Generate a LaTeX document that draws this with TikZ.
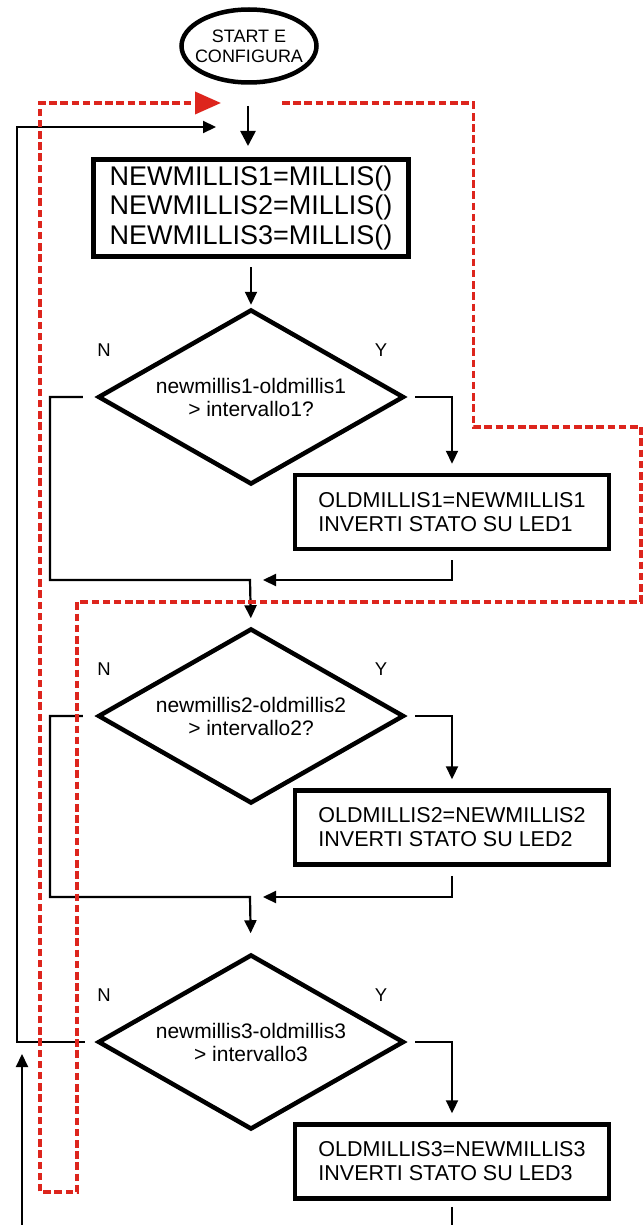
\documentclass[tikz,border=0pt]{standalone}
\usepackage{fontspec}
\setmainfont{Liberation Sans}
\usetikzlibrary{arrows.meta,positioning,calc,shapes.geometric}
\definecolor{looptrace}{RGB}{221,37,29}
\tikzset{
 startnode/.style={ellipse,draw,line width=4.5pt,minimum width=135pt,minimum height=73pt,inner xsep=-14pt,inner ysep=0pt,align=center,font=\fontsize{18}{20}\selectfont},
 initbox/.style={draw,line width=5pt,minimum width=315pt,minimum height=97pt,inner sep=0pt,align=center,font=\fontsize{27}{29.5}\selectfont},
 cond/.style={diamond,aspect=1.75,draw,line width=4.5pt,minimum width=306pt,minimum height=175pt,inner sep=0pt,align=center,font=\fontsize{21}{23}\selectfont},
 act/.style={draw,line width=4.5pt,minimum width=314pt,minimum height=74pt,inner sep=0pt,align=left,font=\fontsize{21.5}{24}\selectfont},
 yn/.style={font=\fontsize{18.5}{20}\selectfont},
 wire/.style={line width=2.2pt},
 flow/.style={wire,-{Triangle[length=13pt,width=12pt]}},
 redloop/.style={looptrace,line width=3.6pt,dash pattern=on 7.5pt off 3.7pt,-{Triangle[length=26pt,width=22pt]}}
}
\begin{document}
\begin{tikzpicture}[x=1pt,y=-1pt]
\path[use as bounding box,fill=white](0,0)rectangle(643,1225);
\node[startnode](start)at(249,46){START E\\CONFIGURA};
\node[initbox](init)at(251,208){NEWMILLIS1=MILLIS()\\NEWMILLIS2=MILLIS()\\NEWMILLIS3=MILLIS()};
\coordinate(entry)at(248,106);
\coordinate(loopin)at(216,127);
\coordinate(c1)at(50,580);\coordinate(m1)at(250,580);
\coordinate(c2)at(50,897);\coordinate(m2)at(250,897);
\coordinate(c3)at(17,127);
\coordinate(led3out)at(452,1225);
\coordinate(lowin)at(22,1225);\coordinate(lowtip)at(22,1054);
\foreach \i/\dy/\by/\q in {1/397/512/?,2/716/827.5/?,3/1042/1161.5/{}}{
\node[cond](d\i)at(251,\dy){newmillis\i-oldmillis\i\\> intervallo\i\q};
\node[yn](n\i)at(104,{\dy-47}){N};
\node[yn](y\i)at(381,{\dy-47}){Y};
\node[act](led\i)at(452,\by){OLDMILLIS\i=NEWMILLIS\i\\INVERTI STATO SU LED\i};
\draw[flow,shorten <=9pt,shorten >=9pt](d\i.east)-|(led\i.north);}
\draw[flow,line width=2.6pt,-{Triangle[length=15pt,width=15pt]},shorten >=11pt](entry)--(entry|-init.north);
\draw[flow,shorten <=8pt,shorten >=2.5pt](init.south)--(d1.north);
\draw[flow,shorten <=13pt,shorten >=8pt](d1.west)-|(c1)--(m1)--(d2.north);
\draw[flow,shorten <=13pt,shorten >=19pt](d2.west)-|(c2)--(m2)--(d3.north);
\draw[flow,shorten <=9pt,shorten >=13pt](led1.south)|-(m1);
\draw[flow,shorten <=9pt,shorten >=13pt](led2.south)|-(m2);
\draw[wire,shorten <=6pt](led3.south)--(led3out);
\draw[flow,shorten <=11pt](d3.west)-|(c3)--(loopin);
\draw[flow](lowin)--(lowtip);
\draw[redloop](282,103)--(473.5,103)--(473.5,427)--(641,427)--(641,602)--(77,602)--(77,1192)--(40,1192)--(40,103)--(221,103);
\end{tikzpicture}
\end{document}
